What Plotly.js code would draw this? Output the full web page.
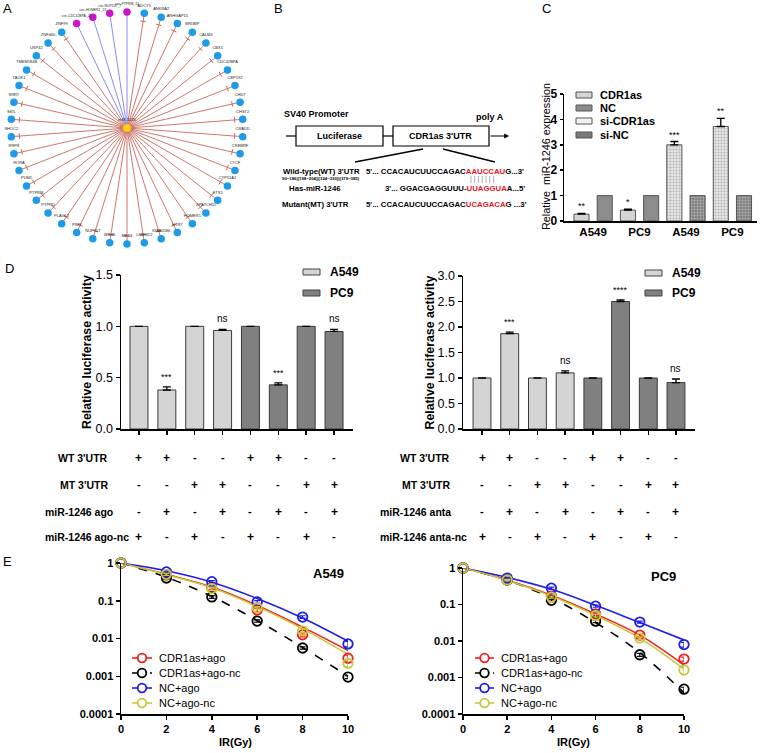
<!DOCTYPE html>
<html><head><meta charset="utf-8">
<script src="https://cdn.plot.ly/plotly-3.0.1.min.js"></script>
<style>html,body{margin:0;padding:0;background:#fff}#chart{width:765px;height:753px}</style>
</head><body><div id="chart"></div>
<script>
// ================= DATA =================
const networkNodes = ['circ-PTPRM_12','ADCY5','ANKRA2','ARHGAP15','BRI3BP','CALM3','CBX5','CDC42BPA','CEP192','CHD7','CHST2','CRADD','CREBRF','CTCF','CYP51A1','ETS1','GPATCH11','HOMER1','HTR7','KIAA0586','LMBRD2','MED4','MSH6','NUP107','PIM3','PLAGL2','PTPRD','PTPRM','PUM1','RORA','RRP8','SHOC2','SKIL','SRRT','TAOK1','TMEM184B','USP42','ZNF460','ZNF99','circ-CDC42BPA_23','circ-HOMER1_13','circ-NUP107_7'];
const hubName = 'miR-1246';

const cGroupLabels = ['A549','PC9','A549','PC9'];
const cSeriesNames = ['CDR1as','NC','si-CDR1as','si-NC'];
const cYTicks = [0,1,2,3,4,5];
const cCDR1as = [0.27, 0.43];   const cCDR1asErr = [0.03, 0.04];
const cNC = [1.0, 1.0];         const cNCErr = [0, 0];
const cSiCDR1as = [3.0, 3.72];  const cSiCDR1asErr = [0.13, 0.32];
const cSiNC = [1.0, 1.0];       const cSiNCErr = [0, 0];
const cCDR1asSig = ['**','*'];
const cSiCDR1asSig = ['***','**'];

const dSeries = ['A549','PC9'];
const dLeftA549 = [1.0, 0.38, 1.0, 0.96];  const dLeftA549Err = [0, 0.03, 0, 0.01];
const dLeftPC9  = [1.0, 0.43, 1.0, 0.95];  const dLeftPC9Err  = [0, 0.02, 0, 0.02];
const dLeftSig  = ['','***','','ns','','***','','ns'];
const dRightA549 = [1.0, 1.87, 1.0, 1.10]; const dRightA549Err = [0, 0.03, 0, 0.04];
const dRightPC9  = [1.0, 2.50, 1.0, 0.91]; const dRightPC9Err  = [0, 0.03, 0, 0.07];
const dRightSig  = ['','***','','ns','','****','','ns'];
const dRowsLeft  = ["WT 3'UTR","MT 3'UTR","miR-1246 ago","miR-1246 ago-nc"];
const dRowsRight = ["WT 3'UTR","MT 3'UTR","miR-1246 anta","miR-1246 anta-nc"];
const dSigns = [
  ['+','+','-','-','+','+','-','-'],
  ['-','-','+','+','-','-','+','+'],
  ['-','+','-','+','-','+','-','+'],
  ['+','-','+','-','+','-','+','-']
];

const doses = [0,2,4,6,8,10];
const eSeries = ['CDR1as+ago','CDR1as+ago-nc','NC+ago','NC+ago-nc'];
const a549Pts = [
  [1, 0.48, 0.22, 0.057, 0.0125, 0.0030],
  [1, 0.40, 0.126, 0.029, 0.0056, 0.00095],
  [1, 0.58, 0.32, 0.093, 0.037, 0.0072],
  [1, 0.50, 0.21, 0.065, 0.016, 0.0022]
];
const a549Err = [
  [0, 0.03, 0.02, 0.006, 0.0015, 0.0006],
  [0, 0.02, 0.01, 0.002, 0.0004, 0.00008],
  [0, 0.03, 0.02, 0.008, 0.003, 0.0012],
  [0, 0.03, 0.02, 0.005, 0.002, 0.0004]
];
const a549Fit = [
  [1, 0.50, 0.23, 0.075, 0.020, 0.0048],
  [1, 0.42, 0.13, 0.030, 0.0058, 0.0010],
  [1, 0.62, 0.31, 0.115, 0.035, 0.0085],
  [1, 0.49, 0.22, 0.070, 0.018, 0.0038]
];
const pc9Pts = [
  [1, 0.47, 0.17, 0.055, 0.0145, 0.0032],
  [1, 0.47, 0.13, 0.035, 0.0042, 0.00048],
  [1, 0.53, 0.28, 0.090, 0.033, 0.0080],
  [1, 0.47, 0.16, 0.050, 0.012, 0.0016]
];
const pc9Err = [
  [0, 0.02, 0.01, 0.004, 0.0015, 0.0004],
  [0, 0.02, 0.01, 0.003, 0.0004, 0.00006],
  [0, 0.02, 0.02, 0.006, 0.002, 0.0012],
  [0, 0.02, 0.01, 0.004, 0.001, 0.0004]
];
const pc9Fit = [
  [1, 0.47, 0.18, 0.055, 0.0145, 0.0022],
  [1, 0.46, 0.15, 0.032, 0.0048, 0.00038],
  [1, 0.55, 0.26, 0.095, 0.032, 0.0107],
  [1, 0.46, 0.17, 0.050, 0.012, 0.0017]
];
const eColors = ['#f01e1e','#000000','#1e1ee6','#c8c83c'];
const eDash = ['solid','dash','solid','solid'];

// ================= HELPERS =================
const W = 765, H = 753;
const px = v => v / W, py = v => 1 - v / H;
const FONT = '"Liberation Sans", Arial, Helvetica, sans-serif';
const traces = [], annotations = [], shapes = [];
function txt(x, y, text, opt) {
  annotations.push(Object.assign({xref:'paper', yref:'paper', x:px(x), y:py(y), text, showarrow:false,
    xanchor:'center', yanchor:'middle', font:{family:FONT, size:11, color:'#000'}}, opt || {}));
}
function bold(size, color) { return {family:FONT, size, color: color || '#000', weight:'bold'}; }

// ================= PANEL A =================
const nN = networkNodes.length;
const isCirc = networkNodes.map(n => n.startsWith('circ-'));
const nAng = networkNodes.map((_, i) => 2 * Math.PI * i / nN);
const nX = nAng.map(a => Math.sin(a)), nY = nAng.map(a => Math.cos(a));
const redE = {x:[], y:[]}, blueE = {x:[], y:[]};
networkNodes.forEach((n, i) => { const e = isCirc[i] ? blueE : redE; e.x.push(0, nX[i], null); e.y.push(0, nY[i], null); });
traces.push({type:'scatter', mode:'lines', x:redE.x, y:redE.y, xaxis:'x', yaxis:'y', line:{color:'#c8685a', width:0.9}, hoverinfo:'skip'});
traces.push({type:'scatter', mode:'lines', x:blueE.x, y:blueE.y, xaxis:'x', yaxis:'y', line:{color:'#7d7df0', width:0.9}, hoverinfo:'skip'});
const tIdx = networkNodes.map((_, i) => i).filter(i => !isCirc[i]);
traces.push({type:'scatter', mode:'markers', x:tIdx.map(i => 0.93 * nX[i]), y:tIdx.map(i => 0.93 * nY[i]), xaxis:'x', yaxis:'y',
  marker:{symbol:'line-ew', size:4, angle:tIdx.map(i => nAng[i] * 180 / Math.PI), line:{color:'#c8685a', width:1}}, hoverinfo:'skip', cliponaxis:false});
const gI = tIdx, cI = networkNodes.map((_, i) => i).filter(i => isCirc[i]);
traces.push({type:'scatter', mode:'markers+text', x:gI.map(i => nX[i]), y:gI.map(i => nY[i]), text:gI.map(i => networkNodes[i]),
  textposition:'top center', textfont:{family:FONT, size:4, color:'#222'}, xaxis:'x', yaxis:'y', cliponaxis:false,
  marker:{size:7.5, color:'#1c9be6'}, hoverinfo:'text'});
traces.push({type:'scatter', mode:'markers+text', x:cI.map(i => nX[i]), y:cI.map(i => nY[i]), text:cI.map(i => networkNodes[i]),
  textposition:'top center', textfont:{family:FONT, size:3.4, color:'#222'}, xaxis:'x', yaxis:'y', cliponaxis:false,
  marker:{size:7.5, color:'#cc14cc'}, hoverinfo:'text'});
traces.push({type:'scatter', mode:'markers+text', x:[0], y:[0], text:[hubName], textposition:'top center',
  textfont:{family:FONT, size:4, color:'#222'}, xaxis:'x', yaxis:'y', cliponaxis:false,
  marker:{size:8, color:'#ffd21e', line:{color:'#f0a000', width:0.5}}});

// ================= PANEL B =================
const sl = (x0,y0,x1,y1,w) => shapes.push({type:'line', xref:'paper', yref:'paper', x0:px(x0), y0:py(y0), x1:px(x1), y1:py(y1), line:{color:'#000', width:w||1.2}});
sl(286,136,296,136); sl(383,136,393,136);
shapes.push({type:'rect', xref:'paper', yref:'paper', x0:px(296), x1:px(383), y0:py(146), y1:py(126), line:{color:'#000', width:1.2}});
shapes.push({type:'rect', xref:'paper', yref:'paper', x0:px(393), x1:px(489), y0:py(146), y1:py(126), line:{color:'#000', width:1.2}});
annotations.push({xref:'paper', yref:'paper', x:px(509), y:py(136), ax:-20, ay:0, text:'', showarrow:true, arrowhead:2, arrowsize:0.8, arrowwidth:1.2, arrowcolor:'#000'});
sl(423,149,355,162,1.5); sl(443,149,495,162,1.5);
txt(282,114,'SV40 Promoter',{xanchor:'left', font:bold(9)});
txt(474,117,'poly A',{xanchor:'left', font:bold(9)});
txt(339.5,136,'Luciferase',{font:bold(9)});
txt(441,136,"CDR1as 3'UTR",{font:bold(9)});
const RED = s => '<span style="color:#e8141e">' + s + '</span>';
txt(362,171,"Wild-type(WT) 3'UTR",{xanchor:'right', font:bold(7.8)});
txt(362,178,"90~186|(198~204)|(324~330)|(379~385)",{xanchor:'right', font:bold(4.3)});
txt(364,171,"5'... CCACAUCUUCCAGAC" + RED('AAUCCAU') + "G...3'",{xanchor:'left', font:bold(7.8)});
txt(482,179,'| | | | | | |',{font:{family:FONT, size:7, color:'#777'}});
txt(315,188,'Has-miR-1246',{font:bold(7.8)});
txt(383,188,"3'... GGACGAGGUUU-" + RED('UUAGGUA') + "A...5'",{xanchor:'left', font:bold(7.8)});
txt(351,204,"Mutant(MT) 3'UTR",{xanchor:'right', font:bold(7.8)});
txt(364,204,"5'... CCACAUCUUCCAGAC" + RED('UCAGACA') + "G ...3'",{xanchor:'left', font:bold(7.8)});

// ================= PANEL C =================
const cFill = {'CDR1as':'#d4d4d4','NC':'#8c8c8c','si-CDR1as':'#f2f2f2','si-NC':'#7a7a7a'};
const cPat = {'si-CDR1as':{shape:'.', bgcolor:'#f4f4f4', fgcolor:'#bcbcbc', size:3, solidity:0.5},
              'si-NC':{shape:'.', bgcolor:'#777777', fgcolor:'#a8a8a8', size:3, solidity:0.5}};
const cSlots = {'CDR1as':[0,2],'NC':[1,3],'si-CDR1as':[4,6],'si-NC':[5,7]};
const cVals = {'CDR1as':cCDR1as,'NC':cNC,'si-CDR1as':cSiCDR1as,'si-NC':cSiNC};
const cErrs = {'CDR1as':cCDR1asErr,'NC':cNCErr,'si-CDR1as':cSiCDR1asErr,'si-NC':cSiNCErr};
cSeriesNames.forEach(s => {
  const m = {color:cFill[s], line:{color:'#555', width:1}};
  if (cPat[s]) m.pattern = cPat[s];
  traces.push({type:'bar', name:s, x:cSlots[s], y:cVals[s], width:0.65, xaxis:'x2', yaxis:'y2', marker:m,
    error_y:{type:'data', array:cErrs[s], arrayminus:cErrs[s].map(() => 0), symmetric:false, visible:cErrs[s].some(v => v > 0), color:'#000', thickness:1.3, width:4}});
});
[['CDR1as', cCDR1asSig], ['si-CDR1as', cSiCDR1asSig]].forEach(([s, sig]) => {
  sig.forEach((t, i) => annotations.push({xref:'x2', yref:'y2', x:cSlots[s][i], y:cVals[s][i] + cErrs[s][i], text:t, showarrow:false,
    yanchor:'bottom', yshift:0, font:{family:FONT, size:9, color:'#000'}}));
});
cSeriesNames.forEach((s, i) => {
  const yy = [95,108,121,135][i];
  shapes.push({type:'rect', xref:'paper', yref:'paper', x0:px(576), x1:px(592), y0:py(yy+3), y1:py(yy-3), fillcolor:cFill[s], line:{color:'#555', width:1}});
  txt(598, yy, s, {xanchor:'left', font:bold(11)});
});
txt(546, 157, 'Relative  miR-1246 expression', {textangle:-90, font:{family:FONT, size:10.8, color:'#000'}});

// ================= PANEL D =================
function dPanel(xa, ya, a549, a549e, pc9, pc9e, sig) {
  const slotsA = [0,1,2,3], slotsP = [4,5,6,7];
  traces.push({type:'bar', name:'A549', x:slotsA, y:a549, width:0.645, xaxis:xa, yaxis:ya, marker:{color:'#d4d4d4', line:{color:'#3a3a3a', width:1}},
    error_y:{type:'data', array:a549e, arrayminus:a549e.map(() => 0), symmetric:false, color:'#000', thickness:1.3, width:4}});
  traces.push({type:'bar', name:'PC9', x:slotsP, y:pc9, width:0.645, xaxis:xa, yaxis:ya, marker:{color:'#808080', line:{color:'#3a3a3a', width:1}},
    error_y:{type:'data', array:pc9e, arrayminus:pc9e.map(() => 0), symmetric:false, color:'#000', thickness:1.3, width:4}});
  const vals = a549.concat(pc9), errs = a549e.concat(pc9e);
  sig.forEach((t, i) => { if (t) annotations.push({xref:xa, yref:ya, x:i, y:vals[i] + errs[i], text:t, showarrow:false, yanchor:'bottom', yshift:3,
    font:{family:FONT, size:t === 'ns' ? 10 : 9, color:'#000'}}); });
}
dPanel('x3','y3', dLeftA549, dLeftA549Err, dLeftPC9, dLeftPC9Err, dLeftSig);
dPanel('x4','y4', dRightA549, dRightA549Err, dRightPC9, dRightPC9Err, dRightSig);
[[303, 328, [272, 293]], [645, 670, [273, 293]]].forEach(([lx, tx, ys]) => {
  dSeries.forEach((s, i) => {
    shapes.push({type:'rect', xref:'paper', yref:'paper', x0:px(lx), x1:px(lx+17), y0:py(ys[i]+3), y1:py(ys[i]-3),
      fillcolor: i === 0 ? '#d4d4d4' : '#808080', line:{color:'#444', width:1}});
    txt(tx, ys[i], s, {xanchor:'left', font:bold(12)});
  });
});
txt(87, 352, 'Relative luciferase activity', {textangle:-90, font:bold(12.3)});
txt(429, 352.5, 'Relative luciferase activity', {textangle:-90, font:bold(12.3)});
const rowY = [458, 485, 512, 537];
[['x3', dRowsLeft, 110, 43], ['x4', dRowsRight, 452, 378]].forEach(([xa, labels, rx, lx]) => {
  labels.forEach((lab, r) => {
    if (r < 2) txt(rx, rowY[r], lab, {xanchor:'right', font:bold(10.5)});
    else txt(lx, rowY[r], lab, {xanchor:'left', font:bold(10.5)});
    dSigns[r].forEach((s, c) => annotations.push({xref:xa, yref:'paper', x:c, y:py(rowY[r] + (s === '-' ? -1 : 0)), text:s, showarrow:false,
      xanchor:'center', yanchor:'middle', font:bold(s === '+' ? 12 : 11)}));
  });
});

// ================= PANEL E =================
function ePanel(xa, ya, pts, errs, fits) {
  eSeries.forEach((s, i) => {
    traces.push({type:'scatter', mode:'lines', x:doses, y:fits[i], xaxis:xa, yaxis:ya, line:{color:eColors[i], width:1.6, dash:eDash[i], shape:'spline'}, hoverinfo:'skip', cliponaxis:false});
  });
  eSeries.forEach((s, i) => {
    traces.push({type:'scatter', mode:'markers', name:s, x:doses, y:pts[i], xaxis:xa, yaxis:ya, cliponaxis:false,
      marker:{symbol:'circle-open', size:9.5, color:eColors[i], line:{width:1.8, color:eColors[i]}},
      error_y:{type:'data', array:errs[i], color:eColors[i], thickness:1.2, width:3}});
  });
}
ePanel('x5','y5', a549Pts, a549Err, a549Fit);
ePanel('x6','y6', pc9Pts, pc9Err, pc9Fit);
[[132, 152, 157], [475, 494, 499]].forEach(([l0, l1, tx]) => {
  eSeries.forEach((s, i) => {
    const yy = [658, 673, 688, 703][i];
    shapes.push({type:'line', xref:'paper', yref:'paper', x0:px(l0), x1:px(l1), y0:py(yy), y1:py(yy), line:{color:eColors[i], width:1.6, dash:eDash[i] === 'dash' ? 'dash' : 'solid'}});
    shapes.push({type:'circle', xref:'paper', yref:'paper', xsizemode:'pixel', ysizemode:'pixel', xanchor:px((l0 + l1) / 2), yanchor:py(yy),
      x0:-4.3, x1:4.3, y0:-4.3, y1:4.3, fillcolor:'#fff', line:{color:eColors[i], width:1.8}});
    txt(tx, yy, s, {xanchor:'left', font:{family:FONT, size:11, color:'#000'}});
  });
});
txt(328, 573, 'A549', {font:bold(13)});
txt(663, 576, 'PC9', {font:bold(13)});
txt(235, 742, 'IR(Gy)', {font:bold(11)});
txt(573, 742, 'IR(Gy)', {font:bold(11)});

[['A',8,9],['B',278,9],['C',546,9],['D',9,268],['E',8,561]].forEach(([t,x,y]) => txt(x, y, t, {font:{family:FONT, size:13, color:'#000'}}));

// ================= AXES =================
function ax(domain, extra) {
  return Object.assign({domain, showgrid:false, zeroline:false, showline:true, linecolor:'#000', linewidth:1.5, ticks:'outside',
    tickcolor:'#000', tickwidth:1.5, ticklen:4, automargin:false, fixedrange:true, tickfont:{family:FONT, size:12, color:'#000'}}, extra);
}
const layout = {
  width:W, height:H, margin:{l:0, r:0, t:0, b:0}, paper_bgcolor:'#fff', plot_bgcolor:'rgba(0,0,0,0)', showlegend:false,
  barmode:'overlay', font:{family:FONT, color:'#000'}, annotations, shapes,
  xaxis:{domain:[px(11), px(243)], range:[-1, 1], visible:false, fixedrange:true},
  yaxis:{domain:[py(244), py(12)], range:[-1, 1], visible:false, fixedrange:true},
  xaxis2:ax([px(564), px(757)], {anchor:'y2', range:[-0.754, 7.56], tickvals:[0.5, 2.5, 4.5, 6.5], ticktext:cGroupLabels, ticks:'', tickfont:bold(11.5)}),
  yaxis2:ax([py(221), py(94)], {anchor:'x2', range:[0, 5], tickvals:cYTicks, ticktext:cYTicks.map(String), ticklen:3, tickfont:bold(12)}),
  xaxis3:ax([px(121), px(353)], {anchor:'y3', range:[-0.645, 7.68], tickvals:[0,1,2,3,4,5,6,7], ticktext:['','','','','','','','']}),
  yaxis3:ax([py(429), py(275)], {anchor:'x3', range:[0, 1.5], tickvals:[0, 0.5, 1, 1.5], ticktext:['0.0','0.5','1.0','1.5'], tickfont:{family:FONT, size:12.5, color:'#000'}}),
  xaxis4:ax([px(463), px(695)], {anchor:'y4', range:[-0.686, 7.686], tickvals:[0,1,2,3,4,5,6,7], ticktext:['','','','','','','','']}),
  yaxis4:ax([py(429), py(276)], {anchor:'x4', range:[0, 3], tickvals:[0,0.5,1,1.5,2,2.5,3], ticktext:['0.0','0.5','1.0','1.5','2.0','2.5','3.0'], tickfont:{family:FONT, size:12.5, color:'#000'}}),
  xaxis5:ax([px(121), px(348)], {anchor:'y5', range:[0, 10], tickvals:doses, tickfont:bold(11)}),
  yaxis5:ax([py(714), py(563)], {anchor:'x5', type:'log', range:[-4, 0], tickvals:[1e-4,1e-3,1e-2,1e-1,1], ticktext:['0.0001','0.001','0.01','0.1','1'], tickfont:bold(11)}),
  xaxis6:ax([px(463), px(684)], {anchor:'y6', range:[0, 10], tickvals:doses, tickfont:bold(11)}),
  yaxis6:ax([py(714), py(568)], {anchor:'x6', type:'log', range:[-4, 0], tickvals:[1e-4,1e-3,1e-2,1e-1,1], ticktext:['0.0001','0.001','0.01','0.1','1'], tickfont:bold(11)})
};
Plotly.newPlot('chart', traces, layout, {staticPlot:true, displayModeBar:false});
</script></body></html>
